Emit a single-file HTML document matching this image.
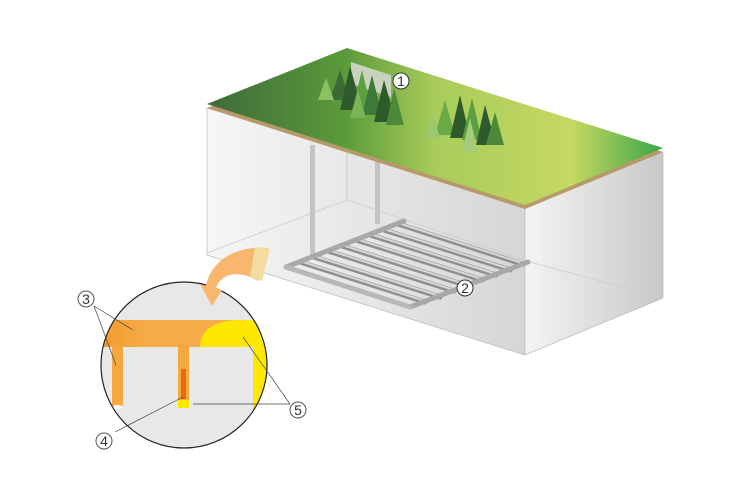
<!DOCTYPE html>
<html><head><style>body{margin:0;background:#fff}svg{display:block}text{font-family:"Liberation Sans",sans-serif}</style></head><body>
<svg width="740" height="500" viewBox="0 0 740 500" xmlns="http://www.w3.org/2000/svg">
<defs>
<linearGradient id="top" x1="207" y1="0" x2="663" y2="0" gradientUnits="userSpaceOnUse">
<stop offset="0" stop-color="#3e6a3a"/><stop offset="0.3" stop-color="#5a9a3a"/><stop offset="0.5" stop-color="#a8cc5a"/><stop offset="0.8" stop-color="#c6d862"/><stop offset="1" stop-color="#3aa548"/></linearGradient>
<linearGradient id="lf" x1="207" y1="0" x2="525" y2="0" gradientUnits="userSpaceOnUse"><stop offset="0" stop-color="#f6f6f6"/><stop offset="1" stop-color="#d6d6d6"/></linearGradient>
<linearGradient id="rf" x1="525" y1="0" x2="663" y2="0" gradientUnits="userSpaceOnUse"><stop offset="0" stop-color="#f4f4f4"/><stop offset="1" stop-color="#c8c8c8"/></linearGradient>
<linearGradient id="orb" x1="100" y1="0" x2="250" y2="0" gradientUnits="userSpaceOnUse"><stop offset="0" stop-color="#f39a2a"/><stop offset="0.3" stop-color="#f6ac48"/><stop offset="1" stop-color="#f6ac48"/></linearGradient>
<clipPath id="cc"><circle cx="184" cy="365" r="83"/></clipPath>
</defs>
<polygon points="207,108 525,207 525,355 207,255" fill="url(#lf)" stroke="#bbb" stroke-width="0.7"/>
<polygon points="525,207 663,152 663,298 525,355" fill="url(#rf)" stroke="#bbb" stroke-width="0.7"/>
<line x1="347" y1="150" x2="347" y2="200" stroke="#ccc"/>
<polyline points="207,253 347,200 530,262" fill="none" stroke="#ccc" stroke-width="0.8"/>
<line x1="530" y1="262" x2="663" y2="298" stroke="#ccc" stroke-width="0.8"/>
<rect x="310" y="145" width="5" height="112" fill="#c4c4c4"/>
<rect x="375" y="160" width="5" height="64" fill="#c4c4c4"/>
<g stroke-linecap="round">
<g stroke="#8f8f8f" stroke-width="5">
<line x1="300" y1="262" x2="425" y2="302"/><line x1="314" y1="257" x2="440" y2="297"/><line x1="328" y1="251" x2="454" y2="291"/><line x1="342" y1="246" x2="468" y2="286"/><line x1="356" y1="240" x2="482" y2="280"/><line x1="370" y1="235" x2="496" y2="275"/><line x1="384" y1="230" x2="510" y2="270"/><line x1="398" y1="224" x2="522" y2="264"/>
</g>
<g stroke="#d8d8d8" stroke-width="2">
<line x1="300" y1="261" x2="425" y2="301"/><line x1="314" y1="256" x2="440" y2="296"/><line x1="328" y1="250" x2="454" y2="290"/><line x1="342" y1="245" x2="468" y2="285"/><line x1="356" y1="239" x2="482" y2="279"/><line x1="370" y1="234" x2="496" y2="274"/><line x1="384" y1="229" x2="510" y2="269"/><line x1="398" y1="223" x2="522" y2="263"/>
</g>
<line x1="286" y1="267" x2="404" y2="221" stroke="#a8a8a8" stroke-width="5"/>
<line x1="410" y1="307" x2="528" y2="262" stroke="#a8a8a8" stroke-width="5"/>
<line x1="286" y1="267" x2="410" y2="307" stroke="#b8b8b8" stroke-width="5"/>
</g>
<polygon points="207,108 347,52 663,152 525,209" fill="#b89a6a"/>
<polygon points="207,104 347,48 663,148 525,205" fill="url(#top)"/>
<rect x="351" y="66" width="40" height="22" fill="#c9d2bd" transform="skewY(18) translate(0,-118)"/>
<g>
<polygon points="340,70 330,100 350,100" fill="#3b6a32"/><polygon points="350,66 340,110 362,110" fill="#2f5a2c"/><polygon points="362,70 352,112 372,112" fill="#5aa040"/><polygon points="372,75 362,115 382,115" fill="#3e7a38"/><polygon points="384,80 374,122 396,122" fill="#2f5a2c"/><polygon points="394,88 386,125 404,125" fill="#4c8a3a"/><polygon points="326,78 318,100 334,100" fill="#8cc060"/><polygon points="358,90 350,118 366,118" fill="#7ab456"/>
<polygon points="445,100 435,135 455,135" fill="#6aaa48"/><polygon points="460,95 450,138 470,138" fill="#2f5a2c"/><polygon points="472,98 462,140 482,140" fill="#5aa040"/><polygon points="485,105 476,145 496,145" fill="#2f5a2c"/><polygon points="495,112 486,145 504,145" fill="#4c8a3a"/><polygon points="432,112 425,138 440,138" fill="#9cc870"/><polygon points="470,118 462,152 478,152" fill="#a4cc78"/>
</g>
<circle cx="184" cy="365" r="83" fill="#e8e8e8"/>
<g clip-path="url(#cc)">
<rect x="95" y="320" width="170" height="27" fill="url(#orb)"/>
<path d="M200,347 C200,330 215,320 240,320 L270,320 L270,410 L253,410 L253,347 Z" fill="#ffe800"/>
<rect x="112" y="347" width="11" height="60" fill="#f6a840"/>
<ellipse cx="117.5" cy="407" rx="5.5" ry="2" fill="#fff"/>
<rect x="178" y="345" width="11" height="55" fill="#f6a840"/>
<rect x="181" y="369" width="5" height="30" fill="#e86a10"/>
<rect x="178" y="400" width="11" height="8" fill="#ffe800"/>
</g>
<circle cx="184" cy="365" r="83" fill="none" stroke="#222" stroke-width="1.2"/>
<path d="M268,248 L258,281 C240,270 222,272 216,288 L222,290 L212,306 L200,284 L206,286 C210,262 235,245 268,248 Z" fill="#f8b76c"/>
<polygon points="255,247 270,249 262,281 250,277" fill="#f4dca0"/>
<g stroke="#444" stroke-width="0.7" fill="none">
<line x1="94" y1="306" x2="133" y2="330"/><line x1="94" y1="306" x2="116" y2="365"/>
<line x1="115" y1="432" x2="183" y2="397"/>
<line x1="290" y1="404" x2="243" y2="337"/><line x1="290" y1="404" x2="193" y2="404"/>
</g>
<g font-size="14" fill="#333" text-anchor="middle">
<circle cx="86" cy="299" r="8" fill="#fff" stroke="#555"/><text x="86" y="304">3</text>
<circle cx="104" cy="441" r="8" fill="#fff" stroke="#555"/><text x="104" y="446">4</text>
<circle cx="298" cy="410" r="8" fill="#fff" stroke="#555"/><text x="298" y="415">5</text>
<circle cx="401" cy="81" r="8" fill="#fff" stroke="#333"/><text x="401" y="86">1</text>
<circle cx="465" cy="288" r="8" fill="#fff" stroke="#333"/><text x="465" y="293">2</text>
</g>
</svg>
</body></html>
